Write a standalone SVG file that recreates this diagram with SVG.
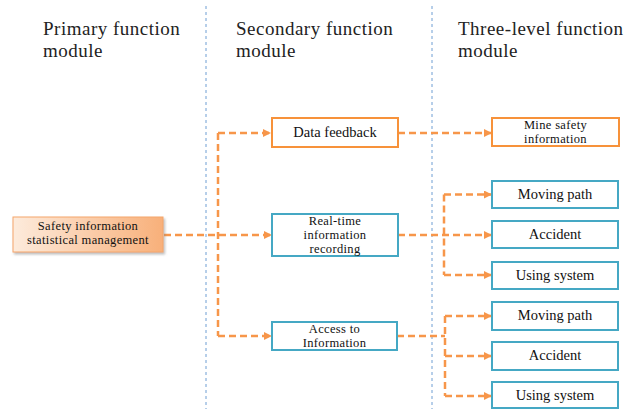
<svg xmlns="http://www.w3.org/2000/svg" width="639" height="409" viewBox="0 0 639 409">
  <style>
    text { font-family: "Liberation Serif", "DejaVu Serif", "Times New Roman", Times, serif; }
    .hdr { font-size: 19px; letter-spacing: 0.5px; fill: #222; }
    .lbl { font-size: 14.5px; fill: #111; text-anchor: middle; }
    .lbl2 { font-size: 12.5px; letter-spacing: 0.35px; fill: #111; text-anchor: middle; }
    .box-o { fill: #fff; stroke: #f7923a; stroke-width: 2; }
    .box-b { fill: #fff; stroke: #45a8c4; stroke-width: 2; }
    .divider { stroke: #6e9ed3; stroke-width: 1; stroke-dasharray: 3 3; fill: none; }
    .link { stroke: #f7964a; stroke-width: 2.5; stroke-dasharray: 7 4; fill: none; }
    .arrow { stroke: #f7964a; stroke-width: 2.5; stroke-dasharray: 7 4; fill: none; marker-end: url(#head); }
  </style>
  <defs>
    <marker id="head" viewBox="0 0 10 10" refX="10" refY="5" markerWidth="3.2" markerHeight="3.2" orient="auto" markerUnits="strokeWidth">
      <path d="M0,0 L10,5 L0,10 Z" fill="#f7964a"/>
    </marker>
    <linearGradient id="rootFill" x1="0" y1="0" x2="1" y2="0">
      <stop offset="0" stop-color="#fdebdc"/>
      <stop offset="1" stop-color="#f8b07a"/>
    </linearGradient>
    <filter id="shadow" x="-10%" y="-20%" width="120%" height="150%">
      <feDropShadow dx="1.5" dy="2" stdDeviation="1.2" flood-color="#888" flood-opacity="0.55"/>
    </filter>
  </defs>

  <rect width="639" height="409" fill="#fff"/>

  <!-- column dividers -->
  <line class="divider" x1="206" y1="6" x2="206" y2="409"/>
  <line class="divider" x1="432" y1="6" x2="432" y2="409"/>

  <!-- column headings -->
  <g id="headings">
    <text class="hdr" x="43" y="35">Primary function</text>
    <text class="hdr" x="43" y="56.5">module</text>
    <text class="hdr" x="236" y="35">Secondary function</text>
    <text class="hdr" x="236" y="56.5">module</text>
    <text class="hdr" x="458" y="35">Three-level function</text>
    <text class="hdr" x="458" y="56.5">module</text>
  </g>

  <!-- connectors -->
  <g id="connectors">
    <!-- root to second level -->
    <line class="arrow" x1="164" y1="235" x2="272" y2="235"/>
    <path class="link" d="M218,133 V336"/>
    <line class="arrow" x1="218" y1="133" x2="271" y2="133"/>
    <line class="arrow" x1="218" y1="336" x2="272" y2="336"/>
    <!-- data feedback branch -->
    <line class="arrow" x1="398" y1="133" x2="492" y2="133"/>
    <!-- real-time recording branch -->
    <line class="arrow" x1="398" y1="235" x2="492" y2="235"/>
    <path class="link" d="M444,194.5 V275"/>
    <line class="arrow" x1="444" y1="194.5" x2="492" y2="194.5"/>
    <line class="arrow" x1="444" y1="275" x2="492" y2="275"/>
    <!-- access branch -->
    <line class="link" x1="397" y1="336" x2="445" y2="336"/>
    <path class="link" d="M445,316 V396"/>
    <line class="arrow" x1="445" y1="316" x2="492" y2="316"/>
    <line class="arrow" x1="445" y1="356" x2="492" y2="356"/>
    <line class="arrow" x1="445" y1="396" x2="492" y2="396"/>
  </g>

  <!-- first level -->
  <g id="safety-management">
    <rect x="13" y="217" width="150" height="35" fill="url(#rootFill)" stroke="#f5a66b" stroke-width="1" filter="url(#shadow)"/>
    <text class="lbl2" x="88" y="229.5">Safety information</text>
    <text class="lbl2" x="88" y="243.5">statistical management</text>
  </g>

  <!-- second level -->
  <g id="data-feedback">
    <rect class="box-o" x="272" y="118" width="126" height="29"/>
    <text class="lbl" x="335" y="137">Data feedback</text>
  </g>
  <g id="realtime-recording">
    <rect class="box-b" x="272" y="214" width="126" height="42"/>
    <text class="lbl2" x="335" y="224.5">Real-time</text>
    <text class="lbl2" x="335" y="238.5">information</text>
    <text class="lbl2" x="335" y="252.5">recording</text>
  </g>
  <g id="access-info">
    <rect class="box-b" x="272" y="322" width="125" height="28"/>
    <text class="lbl2" x="334.5" y="333">Access to</text>
    <text class="lbl2" x="334.5" y="347">Information</text>
  </g>

  <!-- third level -->
  <g id="mine-safety">
    <rect class="box-o" x="492" y="118" width="127" height="28"/>
    <text class="lbl2" x="555.5" y="129">Mine safety</text>
    <text class="lbl2" x="555.5" y="143">information</text>
  </g>
  <g id="moving-path-1">
    <rect class="box-b" x="492" y="181" width="126" height="27"/>
    <text class="lbl" x="555" y="199">Moving path</text>
  </g>
  <g id="accident-1">
    <rect class="box-b" x="492" y="221" width="126" height="27"/>
    <text class="lbl" x="555" y="239">Accident</text>
  </g>
  <g id="using-system-1">
    <rect class="box-b" x="492" y="262" width="126" height="27"/>
    <text class="lbl" x="555" y="280">Using system</text>
  </g>
  <g id="moving-path-2">
    <rect class="box-b" x="492" y="302" width="126" height="28"/>
    <text class="lbl" x="555" y="320">Moving path</text>
  </g>
  <g id="accident-2">
    <rect class="box-b" x="492" y="342" width="126" height="28"/>
    <text class="lbl" x="555" y="360">Accident</text>
  </g>
  <g id="using-system-2">
    <rect class="box-b" x="492" y="382" width="126" height="26"/>
    <text class="lbl" x="555" y="400">Using system</text>
  </g>
</svg>
